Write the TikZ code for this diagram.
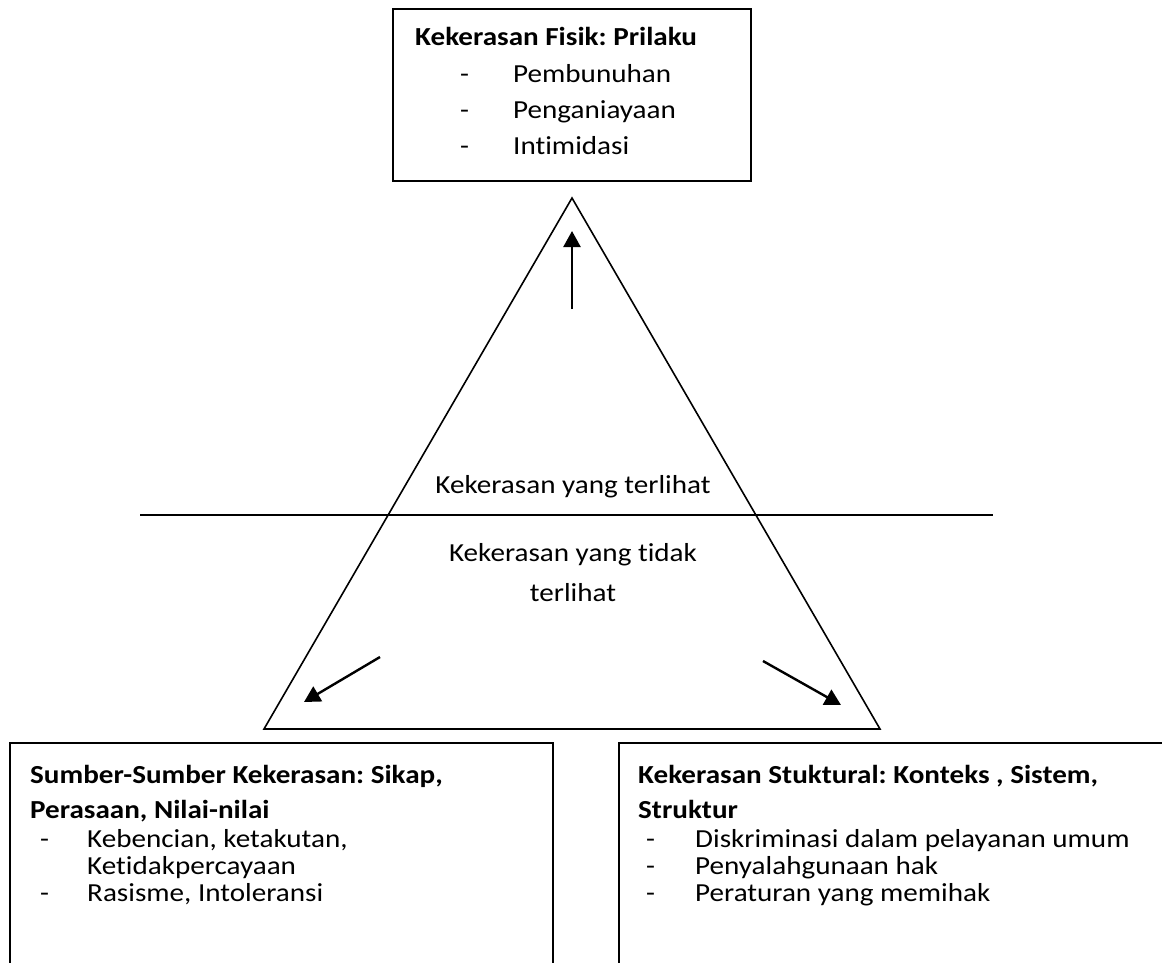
\documentclass[tikz,border=0pt]{standalone}
\usepackage{fontspec}
\setmainfont{Carlito}[Ligatures={NoCommon,NoContextual},FakeStretch=1.12]
\usetikzlibrary{arrows.meta}
\frenchspacing
\begin{document}
\begin{tikzpicture}[x=1pt,y=-1pt,
  box/.style={draw=black, line width=1.8pt, inner sep=0pt},
  txt/.style={anchor=base west, inner sep=0pt, font=\fontsize{26}{30}\selectfont},
  hd/.style={anchor=base west, inner sep=0pt, font=\fontsize{26}{30}\selectfont\bfseries},
  ctr/.style={anchor=base, inner sep=0pt, font=\fontsize{26}{30}\selectfont},
  edgeline/.style={line width=1.6pt},
  arr/.style={line width=2.4pt, -{Triangle[length=16pt,width=17pt]}}
]
\useasboundingbox (0,0) rectangle (1162,962);
\fill[white] (0,0) rectangle (1162,962);

% boxes
\node[box, minimum width=358pt, minimum height=172pt] (top) at (572,95) {};
\node[box, minimum width=543pt, minimum height=231pt] (left) at (281.5,858.5) {};
\node[box, minimum width=556pt, minimum height=230pt] (right) at (897,858) {};

% triangle
\coordinate (apex) at (572,198);
\coordinate (br) at (880,729);
\coordinate (bl) at (264,729);
\draw[edgeline] (apex) -- (br) -- (bl) -- cycle;

% horizontal divider
\coordinate (hl) at (140,515);
\coordinate (hr) at (993,515);
\draw[edgeline] (hl) -- (hr);

% arrows
\coordinate (a1s) at (572,309); \coordinate (a1e) at (572,231);
\coordinate (a2s) at (380,657); \coordinate (a2e) at (304,702);
\coordinate (a3s) at (763,661); \coordinate (a3e) at (841,705);
\draw[arr] (a1s) -- (a1e);
\draw[arr] (a2s) -- (a2e);
\draw[arr] (a3s) -- (a3e);

% top box text
\node[hd] (t0) at (415,45) {Kekerasan Fisik: Prilaku};
\node[txt] (t1d) at (460,82) {-}; \node[txt] (t1) at (513,82) {Pembunuhan};
\node[txt] (t2d) at (460,118) {-}; \node[txt] (t2) at (513,118) {Penganiayaan};
\node[txt] (t3d) at (460,154) {-}; \node[txt] (t3) at (513,154) {Intimidasi};

% triangle text
\node[ctr] (vis) at (573,493) {Kekerasan yang terlihat};
\node[ctr] (inv1) at (573,561) {Kekerasan yang tidak};
\node[ctr] (inv2) at (573,601) {terlihat};

% left box text
\node[hd] (l0) at (30,783) {Sumber-Sumber Kekerasan: Sikap,};
\node[hd] (l1) at (30,818) {Perasaan, Nilai-nilai};
\node[txt] (l2d) at (40,847) {-}; \node[txt] (l2) at (87,847) {Kebencian, ketakutan,};
\node[txt] (l3) at (87,874) {Ketidakpercayaan};
\node[txt] (l4d) at (40,901) {-}; \node[txt] (l4) at (87,901) {Rasisme, Intoleransi};

% right box text
\node[hd] (r0) at (638,783) {Kekerasan Stuktural: Konteks , Sistem,};
\node[hd] (r1) at (638,818) {Struktur};
\node[txt] (r2d) at (646,847) {-}; \node[txt] (r2) at (695,847) {Diskriminasi dalam pelayanan umum};
\node[txt] (r3d) at (646,874) {-}; \node[txt] (r3) at (695,874) {Penyalahgunaan hak};
\node[txt] (r4d) at (646,901) {-}; \node[txt] (r4) at (695,901) {Peraturan yang memihak};
\end{tikzpicture}
\end{document}
